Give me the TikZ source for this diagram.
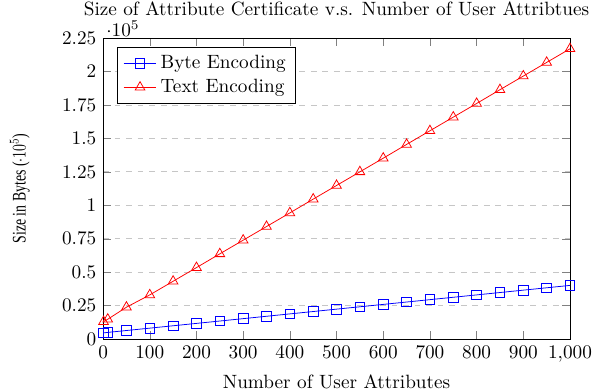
\documentclass[tikz,border=0pt]{standalone}
\usepackage{fontspec}
\usepackage{pgfplots}
\pgfplotsset{compat=1.18}
\newfontfamily\sizelabelfont{Liberation Serif}

\begin{document}
\begin{tikzpicture}[
  byteplot/.style={blue,mark=square,mark size=2.5pt},
  textplot/.style={red,mark=triangle,mark size=2.9pt}
]
  \useasboundingbox (-53.6pt,-27pt) rectangle (255.8pt,176.3pt);
  \begin{axis}[
    name=sizeplot,
    at={(0,0)},anchor=origin,
    scale only axis,
    width=242.8pt,height=156.5pt,
    xmin=0,xmax=1000,ymin=0,ymax=225000,
    xtick={0,100,...,1000},
    ytick={0,25000,...,225000},
    ymajorgrids,
    grid style={dashed,gray!45},
    title={Size of Attribute Certificate v.s. Number of User Attribtues},
    every axis title shift=0pt,
    title style={at={(0.5,1)},anchor=base,yshift=11.5pt},
    every y tick scale label/.style={at={(0,1)},anchor=base west,
      inner sep=0pt,xshift=1.5pt,yshift=1pt},
    xlabel={Number of User Attributes},
    ylabel={Size in Bytes ($\cdot 10^5$)},
    ylabel style={font=\sizelabelfont,xscale=0.72},
    ylabel shift=10pt,
    legend pos=north west,
    legend cell align=left
  ]
    \addplot[byteplot] coordinates {
      (1,4636) (10,4955) (50,6375) (100,8150) (150,9925) (200,11700)
      (250,13475) (300,15250) (350,17025) (400,18800) (450,20575)
      (500,22350) (550,24125) (600,25900) (650,27675) (700,29450)
      (750,31225) (800,33000) (850,34775) (900,36550) (950,38325)
      (1000,40100)
    };
    \addlegendentry{Byte Encoding}
    \addplot[textplot] coordinates {
      (1,13000) (10,14800) (50,23800) (100,33000) (150,43200) (200,53400)
      (250,63700) (300,73900) (350,84100) (400,94300) (450,104600)
      (500,114800) (550,125000) (600,135200) (650,145500) (700,155700)
      (750,165900) (800,176100) (850,186400) (900,196600) (950,206800)
      (1000,217000)
    };
    \addlegendentry{Text Encoding}
  \end{axis}
\end{tikzpicture}
\end{document}
